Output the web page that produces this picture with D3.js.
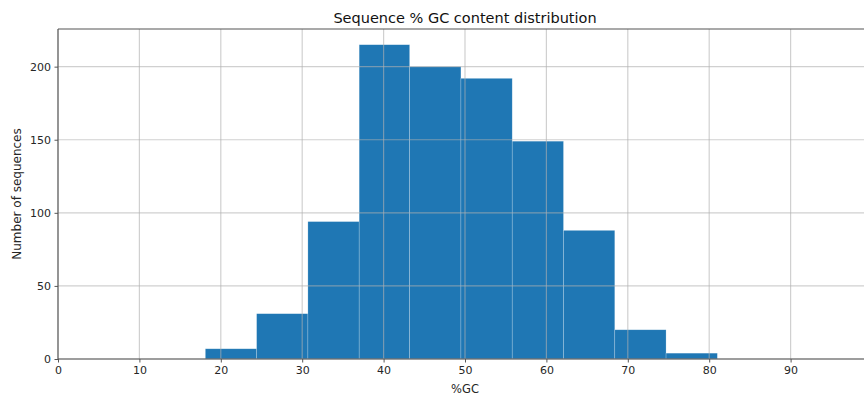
<!DOCTYPE html>
<html><head><meta charset="utf-8">
<script src="https://cdn.jsdelivr.net/npm/d3@7"></script>
<style>
html,body{margin:0;padding:0;background:#fff;}
svg{display:block;font-family:"DejaVu Sans",sans-serif;}
</style></head>
<body>
<svg id="chart" width="864" height="396"></svg>
<script>
const binEdges = [18.1, 24.4, 30.7, 37.0, 43.2, 49.5, 55.8, 62.1, 68.4, 74.7, 81.0];
const counts = [7, 31, 94, 215, 200, 192, 149, 88, 20, 4];
const xTicks = [0, 10, 20, 30, 40, 50, 60, 70, 80, 90];
const yTicks = [0, 50, 100, 150, 200];
const title = "Sequence % GC content distribution";
const xLabel = "%GC";
const yLabel = "Number of sequences";

const svg = d3.select("#chart");
const m = {left: 58, top: 29, bottom: 359, right: 872};
const x = d3.scaleLinear().domain([0, 100]).range([m.left, m.right]);
const y = d3.scaleLinear().domain([0, 225.75]).range([m.bottom, m.top]);

const bins = counts.map((c, i) => ({x0: binEdges[i], x1: binEdges[i + 1], c}));

svg.append("g").selectAll("rect").data(bins).join("rect")
  .attr("x", d => x(d.x0)).attr("width", d => x(d.x1) - x(d.x0))
  .attr("y", d => y(d.c)).attr("height", d => y(0) - y(d.c))
  .attr("fill", "#1f77b4")
  .attr("stroke", "rgba(255,255,255,0.35)").attr("stroke-width", 0.6);

// grid (drawn above bars)
const grid = svg.append("g").attr("stroke", "#b0b0b0").attr("stroke-opacity", 0.6).attr("stroke-width", 1.2);
grid.selectAll("line.gx").data(xTicks).join("line")
  .attr("x1", d => x(d)).attr("x2", d => x(d)).attr("y1", m.top).attr("y2", m.bottom);
grid.selectAll("line.gy").data(yTicks).join("line")
  .attr("y1", d => y(d)).attr("y2", d => y(d)).attr("x1", m.left).attr("x2", m.right);

// axes
const xAxis = svg.append("g").attr("transform", `translate(0,${m.bottom})`)
  .call(d3.axisBottom(x).tickValues(xTicks).tickSize(3.5).tickPadding(3.5).tickFormat(d3.format("d")));
const yAxis = svg.append("g").attr("transform", `translate(${m.left},0)`)
  .call(d3.axisLeft(y).tickValues(yTicks).tickSize(3.5).tickPadding(3.5).tickFormat(d3.format("d")));
[xAxis, yAxis].forEach(a => {
  a.select(".domain").remove();
  a.selectAll("line").attr("stroke", "#444").attr("stroke-width", 0.9);
  a.selectAll("text").attr("fill", "#262626").style("font-size", "11px").style("font-family", "DejaVu Sans");
});

// spines
const sp = svg.append("g").attr("stroke", "#555").attr("stroke-width", 1.1).attr("fill", "none");
sp.append("line").attr("x1", m.left).attr("x2", m.left).attr("y1", m.top).attr("y2", m.bottom);
sp.append("line").attr("x1", m.left).attr("x2", m.right).attr("y1", m.bottom).attr("y2", m.bottom);
sp.append("line").attr("x1", m.left).attr("x2", m.right).attr("y1", m.top).attr("y2", m.top);

svg.append("text").attr("x", 465).attr("y", 22.5).attr("text-anchor", "middle")
  .style("font-size", "14.5px").attr("fill", "#111").text(title);
svg.append("text").attr("x", 465).attr("y", 393).attr("text-anchor", "middle")
  .style("font-size", "11.5px").attr("fill", "#262626").text(xLabel);
svg.append("text").attr("transform", "translate(20.5,194) rotate(-90)").attr("text-anchor", "middle")
  .style("font-size", "12px").attr("fill", "#262626").text(yLabel);
</script>
</body></html>
